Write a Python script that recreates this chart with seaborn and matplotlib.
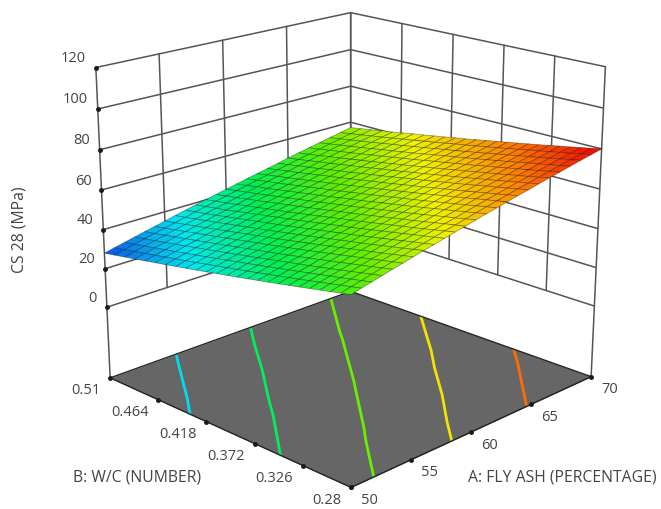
import numpy as np, matplotlib
matplotlib.use('Agg')
import matplotlib.pyplot as plt
import seaborn as sns
from mpl_toolkits.mplot3d import proj3d

fly_ash_ticks = [50, 55, 60, 65, 70]
wc_ticks = [0.51, 0.464, 0.418, 0.372, 0.326, 0.28]
cs_ticks = [0, 20, 40, 60, 80, 100, 120]
contour_levels = [36, 45, 54.6, 63.7, 72.5]
floor_z = -37.5
# CS 28: rows run W/C 0.51 -> 0.28, columns fly ash 50 -> 70
cs28 = [
[28.0,29.2,30.4,31.6,32.8,34.0,35.2,36.5,37.7,38.9,40.1,41.3,42.5,43.7,44.9,46.1,47.3,48.5,49.8,51.0,52.2,53.4,54.6,55.8,57.0],
[29.0,30.2,31.4,32.6,33.8,35.0,36.2,37.4,38.7,39.9,41.1,42.3,43.5,44.7,45.9,47.1,48.3,49.5,50.7,51.9,53.1,54.3,55.5,56.8,58.0],
[30.0,31.2,32.4,33.6,34.8,36.0,37.2,38.4,39.6,40.8,42.0,43.2,44.5,45.7,46.9,48.1,49.3,50.5,51.7,52.9,54.1,55.3,56.5,57.7,58.9],
[31.0,32.2,33.4,34.6,35.8,37.0,38.2,39.4,40.6,41.7,43.0,44.2,45.4,46.6,47.8,49.0,50.2,51.4,52.7,53.9,55.1,56.3,57.5,58.7,59.9],
[32.0,33.2,34.4,35.6,36.8,38.0,39.2,40.4,41.6,42.8,44.0,45.2,46.4,47.6,48.8,50.0,51.2,52.4,53.6,54.8,56.0,57.2,58.4,59.6,60.8],
[33.0,34.2,35.4,36.6,37.8,39.0,40.2,41.4,42.6,43.8,45.0,46.2,47.4,48.6,49.8,51.0,52.2,53.4,54.6,55.8,57.0,58.2,59.4,60.6,61.8],
[34.0,35.2,36.4,37.6,38.8,40.0,41.2,42.4,43.6,44.8,46.0,47.2,48.4,49.6,50.8,52.0,53.2,54.4,55.6,56.8,58.0,59.2,60.4,61.6,62.8],
[35.0,36.2,37.4,38.6,39.8,41.0,42.2,43.4,44.6,45.8,47.0,48.2,49.4,50.6,51.8,52.9,54.1,55.3,56.5,57.7,58.9,60.1,61.3,62.5,63.7],
[36.0,37.2,38.4,39.6,40.8,42.0,43.2,44.4,45.6,46.8,47.9,49.1,50.3,51.5,52.7,53.9,55.1,56.3,57.5,58.7,59.9,61.1,62.3,63.5,64.7],
[37.0,38.2,39.4,40.6,41.8,43.0,44.2,45.3,46.5,47.7,48.9,50.1,51.3,52.5,53.7,54.9,56.1,57.3,58.5,59.7,60.9,62.0,63.2,64.4,65.6],
[38.0,39.2,40.4,41.6,42.8,44.0,45.1,46.3,47.5,48.7,49.9,51.1,52.3,53.5,54.7,55.9,57.1,58.2,59.4,60.6,61.8,63.0,64.2,65.4,66.6],
[39.0,40.2,41.4,42.6,43.8,44.9,46.1,47.3,48.5,49.7,50.9,52.1,53.3,54.5,55.7,56.8,58.0,59.2,60.4,61.6,62.8,64.0,65.2,66.4,67.5],
[40.0,41.2,42.4,43.6,44.7,45.9,47.1,48.3,49.5,50.7,51.9,53.1,54.2,55.4,56.6,57.8,59.0,60.2,61.4,62.6,63.8,65.0,66.1,67.3,68.5],
[41.0,42.2,43.4,44.6,45.7,46.9,48.1,49.3,50.5,51.7,52.9,54.0,55.2,56.4,57.6,58.8,60.0,61.2,62.3,63.5,64.7,65.9,67.1,68.3,69.5],
[42.0,43.2,44.4,45.6,46.7,47.9,49.1,50.3,51.5,52.7,53.8,55.0,56.2,57.4,58.6,59.8,61.0,62.1,63.3,64.5,65.7,66.9,68.0,69.2,70.4],
[43.0,44.2,45.4,46.6,47.7,48.9,50.1,51.3,52.5,53.6,54.8,56.0,57.2,58.4,59.6,60.7,61.9,63.1,64.3,65.5,66.6,67.8,69.0,70.2,71.4],
[44.0,45.2,46.4,47.5,48.7,49.9,51.1,52.3,53.4,54.6,55.8,57.0,58.2,59.3,60.5,61.7,62.9,64.1,65.2,66.4,67.6,68.8,70.0,71.2,72.3],
[45.0,46.2,47.4,48.5,49.7,50.9,52.1,53.3,54.4,55.6,56.8,58.0,59.1,60.3,61.5,62.7,63.9,65.0,66.2,67.4,68.6,69.8,70.9,72.1,73.3],
[46.0,47.2,48.4,49.5,50.7,51.9,53.1,54.2,55.4,56.6,57.8,59.0,60.1,61.3,62.5,63.7,64.8,66.0,67.2,68.4,69.5,70.7,71.9,73.1,74.2],
[47.0,48.2,49.4,50.5,51.7,52.9,54.1,55.2,56.4,57.6,58.8,59.9,61.1,62.3,63.5,64.6,65.8,67.0,68.2,69.3,70.5,71.7,72.9,74.0,75.2],
[48.0,49.2,50.4,51.5,52.7,53.9,55.1,56.2,57.4,58.6,59.7,60.9,62.1,63.3,64.4,65.6,66.8,68.0,69.1,70.3,71.5,72.7,73.8,75.0,76.2],
[49.0,50.2,51.3,52.5,53.7,54.9,56.0,57.2,58.4,59.6,60.7,61.9,63.1,64.2,65.4,66.6,67.8,68.9,70.1,71.3,72.4,73.6,74.8,76.0,77.1],
[50.0,51.2,52.3,53.5,54.7,55.9,57.0,58.2,59.4,60.5,61.7,62.9,64.0,65.2,66.4,67.6,68.7,69.9,71.1,72.2,73.4,74.6,75.8,76.9,78.1],
[51.0,52.2,53.3,54.5,55.7,56.8,58.0,59.2,60.3,61.5,62.7,63.8,65.0,66.2,67.4,68.5,69.7,70.9,72.0,73.2,74.4,75.5,76.7,77.9,79.0],
[52.0,53.2,54.3,55.5,56.7,57.8,59.0,60.2,61.3,62.5,63.7,64.8,66.0,67.2,68.3,69.5,70.7,71.8,73.0,74.2,75.3,76.5,77.7,78.8,80.0],
]

sns.set_theme(style='white')
plt.rcParams['font.family'] = ['Open Sans', 'DejaVu Sans']

def ap(v, w=.875):
    t = (np.asarray(v, float) - 50) / 20
    return 50 + 20 * t * w / (1 - t + t * w)
def bp(v, w=1.14):
    t = (.51 - np.asarray(v, float)) / .23
    return .51 - .23 * t * w / (1 - t + t * w)

Z = np.array(cs28)
n_b, n_a = Z.shape
AA, BB = np.meshgrid(ap(np.linspace(50, 70, n_a)), bp(np.linspace(.51, .28, n_b)))

W, H = 661, 509
fig = plt.figure(figsize=(W/100, H/100), dpi=100)
ax = fig.add_axes([55/W, -13.5/H, 576.1/W, 576.1/H], projection='3d', computed_zorder=False)
ax.set_xlim(50, 70); ax.set_ylim(.28, .51); ax.set_zlim(floor_z, 120)
ax.set_box_aspect((1, .9943, .9334))
ax.set_proj_type('persp', focal_length=.5903)
ax.view_init(elev=18.9022, azim=-135.2047)
ax.set_axis_off()
ax.patch.set_alpha(0)

cm = sns.blend_palette(['#0a50e8', '#00e8f0', '#00f050', '#60f000', '#f0f000', '#ff8000', '#f00000'], as_cmap=True)
GC = '#555555'
ax.plot_surface(np.array([[50, 70], [50, 70]]), np.array([[.51, .51], [.28, .28]]), np.full((2, 2), floor_z),
                color='#666666', shade=False, zorder=1, linewidth=0)
for x, y in [([50, 70], [.51, .51]), ([70, 70], [.51, .28]), ([70, 50], [.28, .28]), ([50, 50], [.28, .51])]:
    ax.plot(x, y, [floor_z, floor_z], color='#222222', lw=1, zorder=3)
ax.contour(AA[::6, ::6], BB[::6, ::6], Z[::6, ::6], levels=contour_levels, zdir='z', offset=floor_z,
           cmap=cm, vmin=28, vmax=80, linewidths=2, zorder=2)
for z in cs_ticks:
    ax.plot([50, 70, 70], [.51, .51, .28], [z, z, z], color=GC, lw=1.1, zorder=4)
for x in ap(fly_ash_ticks):
    ax.plot([x, x], [.51, .51], [0, 120], color=GC, lw=1.1, zorder=4)
for y in bp(wc_ticks):
    ax.plot([70, 70], [y, y], [0, 120], color=GC, lw=1.1, zorder=4)
ax.plot([50, 50], [.51, .51], [floor_z, 0], color=GC, lw=1.1, zorder=4)
ax.plot([70, 70], [.28, .28], [floor_z, 0], color=GC, lw=1.1, zorder=4)
ax.plot_surface(AA, BB, Z, cmap=cm, vmin=28, vmax=80, rstride=1, cstride=1, shade=False,
                edgecolor=(0, 0, 0, .38), linewidth=.55, zorder=6)

M = ax.get_proj()
def lab(x, y, z, s, dx, dy, ha):
    X, Y, _ = proj3d.proj_transform(x, y, z, M)
    ax.annotate(s, xy=(X, Y), xytext=(dx, dy), textcoords='offset pixels', ha=ha, va='center',
                fontsize=10.5, color='#444444', annotation_clip=False, zorder=9)
for z in cs_ticks:
    lab(50, .51, z, str(z), -10, 9, 'right')
for y, p in zip(wc_ticks, bp(wc_ticks)):
    lab(50, p, floor_z, f'{y:g}', -10, -13, 'right')
for x, p in zip(fly_ash_ticks, ap(fly_ash_ticks)):
    lab(p, .28, floor_z, str(x), 10, -13, 'left')
ax.plot([50]*len(cs_ticks), [.51]*len(cs_ticks), cs_ticks, ls='', marker='o', ms=2.5, color='k', zorder=8)
ax.plot([50]*len(wc_ticks), bp(wc_ticks), [floor_z]*len(wc_ticks), ls='', marker='o', ms=2.5, color='k', zorder=8)
ax.plot(ap(fly_ash_ticks), [.28]*len(fly_ash_ticks), [floor_z]*len(fly_ash_ticks), ls='', marker='o', ms=2.5, color='k', zorder=8)

kw = dict(fontsize=11.3, color='#444444', va='center')
fig.text(19/W, 1-230/H, 'CS 28 (MPa)', rotation=90, ha='center', **kw)
fig.text(73/W, 1-477/H, 'B: W/C (NUMBER)', ha='left', **kw)
fig.text(468/W, 1-477/H, 'A: FLY ASH (PERCENTAGE)', ha='left', **kw)
fig.savefig('out.png')
